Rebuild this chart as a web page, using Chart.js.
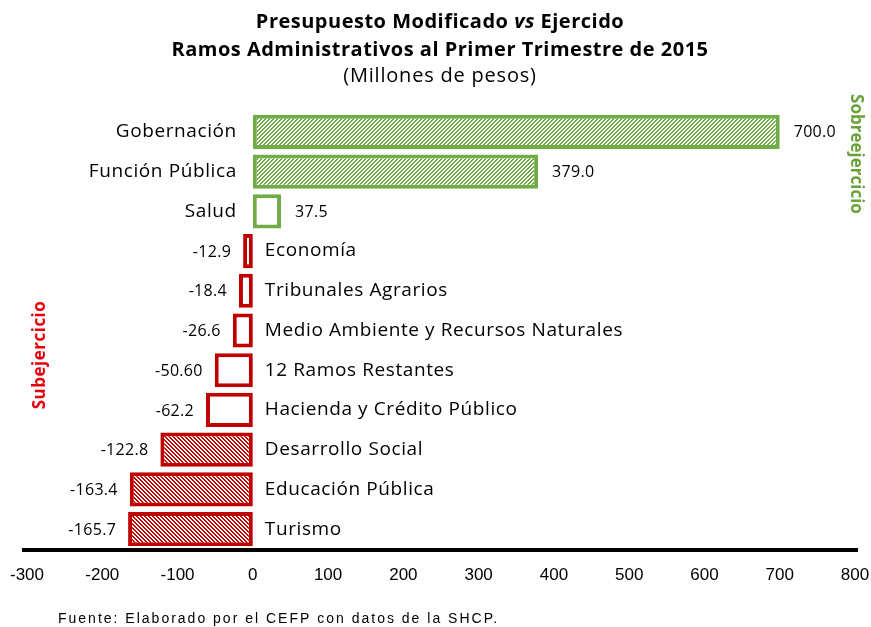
<!DOCTYPE html>
<html>
<head>
<meta charset="utf-8">
<script src="https://cdn.jsdelivr.net/npm/chart.js@4.4.0/dist/chart.umd.min.js"></script>
<style>
  html, body { margin: 0; padding: 0; background: #fff; }
</style>
</head>
<body>
<canvas id="chart" width="871" height="627"></canvas>
<script>
const categories = ["Gobernación", "Función Pública", "Salud", "Economía", "Tribunales Agrarios",
  "Medio Ambiente y Recursos Naturales", "12 Ramos Restantes", "Hacienda y Crédito Público",
  "Desarrollo Social", "Educación Pública", "Turismo"];
const values = [700.0, 379.0, 37.5, -12.9, -18.4, -26.6, -50.6, -62.2, -122.8, -163.4, -165.7];
const valueLabels = ["700.0", "379.0", "37.5", "-12.9", "-18.4", "-26.6", "-50.60", "-62.2", "-122.8", "-163.4", "-165.7"];
const xTicks = [-300, -200, -100, 0, 100, 200, 300, 400, 500, 600, 700, 800];

const GREEN = "#70ad47";
const RED = "#c00000";
const SANS = '"Open Sans", "DejaVu Sans", sans-serif';
const PLAIN = '"Liberation Sans", Arial, sans-serif';

const canvas = document.getElementById("chart");
const ctx = canvas.getContext("2d");

// fine diagonal hatch, like the excel pattern fill
function hatch(color, dir) {
  const t = document.createElement("canvas");
  t.width = t.height = 4;
  const g = t.getContext("2d");
  g.fillStyle = "#fff";
  g.fillRect(0, 0, 4, 4);
  g.fillStyle = color;
  for (let i = 0; i < 4; i++) {
    const x = dir > 0 ? 3 - i : i;
    g.fillRect(x, i, 1, 1);
    g.fillRect((x + 1) % 4, i, 1, 1);
  }
  return ctx.createPattern(t, "repeat");
}
const greenHatch = hatch(GREEN, 1);
const redHatch = hatch(RED, -1);

function txt(c, s, x, y, font, color, align, spacing) {
  c.save();
  c.font = font;
  c.fillStyle = color;
  c.textAlign = align || "left";
  c.textBaseline = "middle";
  c.letterSpacing = (spacing || 0) + "px";
  c.fillText(s, x, y);
  c.restore();
}

function width(c, s, font, spacing) {
  c.save();
  c.font = font;
  c.letterSpacing = (spacing || 0) + "px";
  const w = c.measureText(s).width;
  c.restore();
  return w;
}

const decorations = {
  id: "decorations",
  afterDatasetsDraw(chart) {
    const c = chart.ctx;
    const area = chart.chartArea;
    const meta = chart.getDatasetMeta(0);
    const catFont = "19px " + SANS;
    const valFont = "16px " + SANS;

    meta.data.forEach((bar, i) => {
      const v = values[i];
      if (v >= 0) {
        txt(c, categories[i], bar.base - 16, bar.y, catFont, "#000", "right", 0.6);
        txt(c, valueLabels[i], bar.x + 14, bar.y + 1, valFont, "#000", "left", 0.3);
      } else {
        txt(c, categories[i], bar.base + 12, bar.y, catFont, "#000", "left", 0.6);
        txt(c, valueLabels[i], bar.x - 12, bar.y + 1, valFont, "#000", "right", 0.3);
      }
    });

    // heavy baseline
    c.save();
    c.strokeStyle = "#000";
    c.lineWidth = 4;
    c.beginPath();
    c.moveTo(22, area.bottom + 1);
    c.lineTo(858, area.bottom + 1);
    c.stroke();
    c.restore();

    // title, with italic "vs"
    const cx = 440;
    const b = "bold 20px " + SANS;
    const bi = "italic bold 20px " + SANS;
    const parts = [["Presupuesto Modificado ", b], ["vs", bi], [" Ejercido", b]];
    let w = 0;
    parts.forEach(p => { w += width(c, p[0], p[1], 0.5); });
    let x = cx - w / 2;
    parts.forEach(p => {
      txt(c, p[0], x, 22, p[1], "#000", "left", 0.5);
      x += width(c, p[0], p[1], 0.5);
    });
    txt(c, "Ramos Administrativos al Primer Trimestre de 2015", cx, 50, b, "#000", "center", 0.5);
    txt(c, "(Millones de pesos)", cx, 76, "20px " + SANS, "#000", "center", 0.8);

    // side notes
    c.save();
    c.translate(856, 154);
    c.rotate(Math.PI / 2);
    txt(c, "Sobreejercicio", 0, 0, "bold 17px " + SANS, "#6aa23a", "center");
    c.restore();
    c.save();
    c.translate(40, 355);
    c.rotate(-Math.PI / 2);
    txt(c, "Subejercicio", 0, 0, "bold 17px " + SANS, "#e8000b", "center", 0.5);
    c.restore();

    txt(c, "Fuente: Elaborado por el CEFP con datos de la SHCP.", 58, 619, "14px " + PLAIN, "#000", "left", 2.0);
  }
};

new Chart(canvas, {
  type: "bar",
  data: {
    labels: categories,
    datasets: [{
      data: values,
      backgroundColor: c => {
        const v = values[c.dataIndex];
        if (Math.abs(v) < 100) return "#fff";
        return v > 0 ? greenHatch : redHatch;
      },
      borderColor: c => values[c.dataIndex] > 0 ? GREEN : RED,
      borderWidth: 4,
      borderSkipped: false,
      categoryPercentage: 1,
      barPercentage: 0.86
    }]
  },
  options: {
    indexAxis: "y",
    responsive: false,
    animation: false,
    layout: { padding: { top: 112, left: 27, right: 16, bottom: 43 } },
    plugins: { legend: { display: false }, tooltip: { enabled: false } },
    scales: {
      x: {
        min: -300,
        max: 800,
        afterBuildTicks: s => { s.ticks = xTicks.map(v => ({ value: v })); },
        afterFit: s => {
          s.height = 35;
          // keep the plot edges where the reference has them
          s.paddingLeft = 0;
          s.paddingRight = 0;
        },
        ticks: {
          color: "#000",
          font: { family: PLAIN, size: 17 },
          padding: 16,
          maxRotation: 0,
          autoSkip: false
        },
        grid: { display: false, drawTicks: false },
        border: { display: false }
      },
      y: { display: false }
    }
  },
  plugins: [decorations]
});
</script>
</body>
</html>
